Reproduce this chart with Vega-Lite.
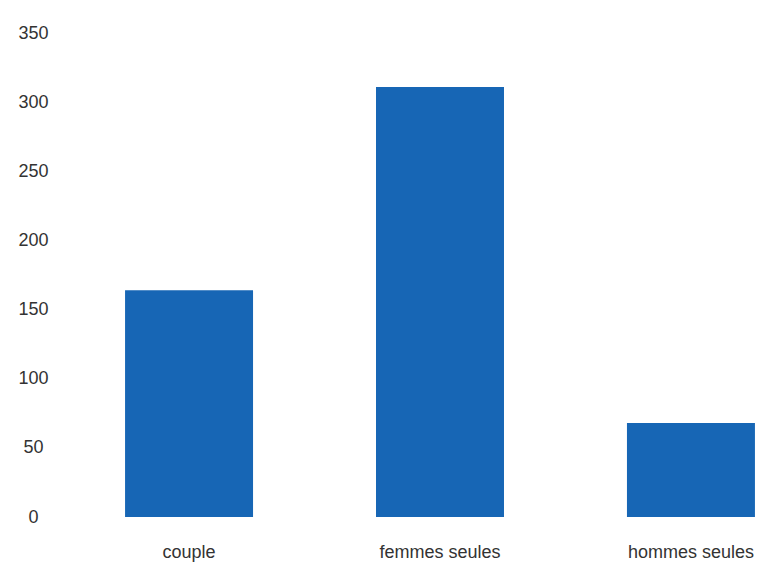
{
  "$schema": "https://vega.github.io/schema/vega-lite/v6.json",
  "autosize": "none",
  "width": 660,
  "height": 484,
  "padding": {"left": 110, "top": 33, "right": 1, "bottom": 54},
  "background": "white",
  "config": {"view": {"stroke": null}},
  "data": {"values": [
    {"categorie": "couple", "valeur": 164},
    {"categorie": "femmes seules", "valeur": 311},
    {"categorie": "hommes seules", "valeur": 68}
  ]},
  "mark": {"type": "bar", "color": "#1766b5"},
  "encoding": {
    "x": {
      "field": "categorie", "type": "nominal", "sort": null,
      "scale": {"paddingInner": 0.49, "paddingOuter": 0.06},
      "axis": {"title": null, "labelAngle": 0, "domain": false, "ticks": false, "labelPadding": 26,
               "labelFont": "Liberation Sans", "labelFontSize": 18, "labelColor": "#333333"}
    },
    "y": {
      "field": "valeur", "type": "quantitative",
      "scale": {"domain": [0, 350], "nice": false},
      "axis": {"title": null, "values": [0, 50, 100, 150, 200, 250, 300, 350], "grid": false, "domain": false, "ticks": false,
               "labelAlign": "center", "labelPadding": 77, "labelFont": "Liberation Sans", "labelFontSize": 18, "labelColor": "#333333"}
    }
  }
}
